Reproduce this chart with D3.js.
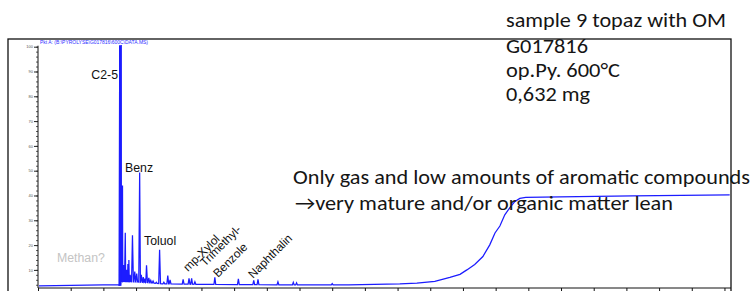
<!DOCTYPE html>
<html><head><meta charset="utf-8">
<script src="https://cdn.jsdelivr.net/npm/d3@7"></script>
<style>
html,body{margin:0;padding:0;background:#fff;overflow:hidden}
svg{display:block}
</style></head><body>
<svg id="c" width="755" height="291"></svg>
<script>
// ---- data (retention time in min, relative abundance in %) ----
const baselineRT = [0.03, 2.48, 2.55, 3.2, 3.8, 5.0, 8.0, 9.5, 11.07, 11.59, 12.14, 12.60, 12.91, 13.12, 13.36, 13.61, 13.82, 13.98, 14.13, 14.28, 14.43, 14.59, 14.74, 14.92, 15.96, 18.2, 21.16];
const baselineSignal = [3.55, 3.55, 5.4, 5.0, 4.4, 4.15, 3.95, 3.95, 4.35, 4.64, 5.36, 6.98, 8.19, 10.0, 12.2, 15.4, 20.1, 24.9, 27.7, 32.2, 35.0, 37.6, 38.8, 39.2, 39.4, 39.8, 40.2];
const peakRT = [2.50, 2.545, 2.585, 2.62, 2.67, 2.71, 2.75, 2.78, 2.82, 2.89, 2.96, 3.02, 3.11, 3.16, 3.22, 3.27, 3.32, 3.39, 3.45, 3.52, 3.62, 3.72, 3.85, 3.97, 4.04, 4.44, 4.62, 4.70, 4.80, 5.41, 6.13, 6.60, 6.73, 7.34, 7.81, 7.91, 9.0];
const peakSignal = [100.5, 100.7, 44, 12, 25, 10, 12.4, 14, 8, 24, 9.3, 8.5, 49.3, 8, 7.1, 6.5, 11.9, 6.8, 5.8, 5.5, 5, 18.1, 5, 7.7, 6, 6.2, 6.6, 6.6, 5.2, 7, 6.4, 5.8, 6.2, 5.2, 5.0, 4.8, 4.5];
const xTickValues = [0,1,2,3,4,5,6,7,8,9,10,11,12,13,14,15,16,17,18,19,20,21];
const yTickValues = [10,20,30,40,50,60,70,80,90,100];
const yMinorValues = d3.range(4, 101, 2);
const compoundLabels = ["C2-5", "Benz", "Toluol", "Methan?", "mp-Xylol", "Trimethyl-", "Benzole", "Naphthalin"];
const noteLines = ["sample 9 topaz with OM", "G017816", "op.Py. 600°C", "0,632 mg"];
const commentLines = ["Only gas and low amounts of aromatic compounds", "\u2192very mature and/or organic matter lean"];
const traceTitle = "Pkt A:  (B:\\PYROLYSE\\G017816\\600C\\DATA.MS)";

// ---- drawing ----
const svg = d3.select("#c");
const x = d3.scaleLinear().domain([0, 21.2]).range([38, 731]);
const y = d3.scaleLinear().domain([2.7, 103.1]).range([288, 39]);
const blue = "#1c1cff";

// frame
svg.append("rect").attr("x", 8).attr("y", 39).attr("width", 723).attr("height", 270)
  .attr("fill", "none").attr("stroke", "#111").attr("stroke-width", 1.3);

// tiny title
svg.append("text").attr("x", 40).attr("y", 44).text(traceTitle)
  .attr("font-family", "Liberation Sans, Arial, sans-serif").attr("font-size", 4.6)
  .attr("fill", "#3030ff").attr("textLength", 108).attr("lengthAdjust", "spacingAndGlyphs");

// y axis
const yAxis = d3.axisLeft(y).tickValues(yTickValues).tickSize(4).tickPadding(1).tickFormat(d3.format("d"));
const gy = svg.append("g").attr("transform", "translate(38,0)").call(yAxis);
gy.select(".domain").remove();
gy.selectAll("text").attr("font-size", 4).attr("fill", "#555").attr("font-family", "Liberation Sans, Arial, sans-serif");
gy.selectAll("line").attr("stroke", "#222");
const yMinor = d3.axisLeft(y).tickValues(yMinorValues).tickSize(2).tickFormat("");
const gym = svg.append("g").attr("transform", "translate(38,0)").call(yMinor);
gym.select(".domain").remove();
gym.selectAll("line").attr("stroke", "#333").attr("stroke-width", 0.8);
svg.append("line").attr("x1", 38).attr("x2", 38).attr("y1", y(100) - 1).attr("y2", 288)
  .attr("stroke", "#111").attr("stroke-width", 1);

// x axis
const xAxis = d3.axisBottom(x).tickValues(xTickValues).tickSize(6).tickFormat("");
const gx = svg.append("g").attr("transform", "translate(0,288)").call(xAxis);
gx.select(".domain").attr("stroke", "#111").attr("d", `M38,0H731`);
gx.selectAll("line").attr("stroke", "#111");

// trace: baseline plus spike peaks
const baseAt = d3.scaleLinear().domain(baselineRT).range(baselineSignal);
const pts = baselineRT.map((t, i) => ({px: x(t), v: baselineSignal[i]}));
const hw = 0.9;
peakRT.forEach((t, i) => {
  const b = baseAt(t);
  pts.push({px: x(t) - hw, v: b});
  pts.push({px: x(t), v: peakSignal[i]});
  pts.push({px: x(t) + hw, v: b});
});
pts.sort((a, b) => a.px - b.px);
const line = d3.line().x(d => d.px).y(d => y(d.v));
svg.append("path").attr("d", line(pts)).attr("fill", "none").attr("stroke", blue)
  .attr("stroke-width", 1.25).attr("stroke-linejoin", "miter");
// emphasise main gas peak
svg.append("line").attr("x1", x(peakRT[0]) + 0.5).attr("x2", x(peakRT[0]) + 0.5)
  .attr("y1", y(peakSignal[0])).attr("y2", y(baselineSignal[0]))
  .attr("stroke", blue).attr("stroke-width", 2.4);

// compound labels
const lf = "Liberation Sans, Arial, sans-serif";
const lab = svg.append("g").attr("font-family", lf).attr("font-size", 12.3).attr("fill", "#111");
lab.append("text").attr("x", 118).attr("y", 79).attr("text-anchor", "end").text(compoundLabels[0]);
lab.append("text").attr("x", 125).attr("y", 172).text(compoundLabels[1]);
lab.append("text").attr("x", 144).attr("y", 245).text(compoundLabels[2]);
lab.append("text").attr("x", 57).attr("y", 262).attr("fill", "#c4c4c4").text(compoundLabels[3]);
[[188, 272, 4], [205, 267, 5], [218, 278, 6], [253, 279, 7]].forEach(([px, py, k]) => {
  lab.append("text").attr("transform", `translate(${px},${py}) rotate(-45)`)
    .attr("font-size", 11.8).text(compoundLabels[k]);
});

// annotations
const af = "Carlito, Calibri, Lato, sans-serif";
const note = svg.append("g").attr("font-family", af).attr("font-size", 20).attr("fill", "#151515");
const noteY = [27, 53, 77, 101];
const noteW = [220, 82, 114, 84];
noteLines.forEach((s, i) => {
  note.append("text").attr("x", 506).attr("y", noteY[i]).text(s)
    .attr("textLength", noteW[i]).attr("lengthAdjust", "spacingAndGlyphs");
});
const comY = [184, 210], comX = [293, 295], comW = [457, 378];
commentLines.forEach((s, i) => {
  note.append("text").attr("x", comX[i]).attr("y", comY[i]).text(s)
    .attr("textLength", comW[i]).attr("lengthAdjust", "spacingAndGlyphs");
});
</script>
</body></html>
